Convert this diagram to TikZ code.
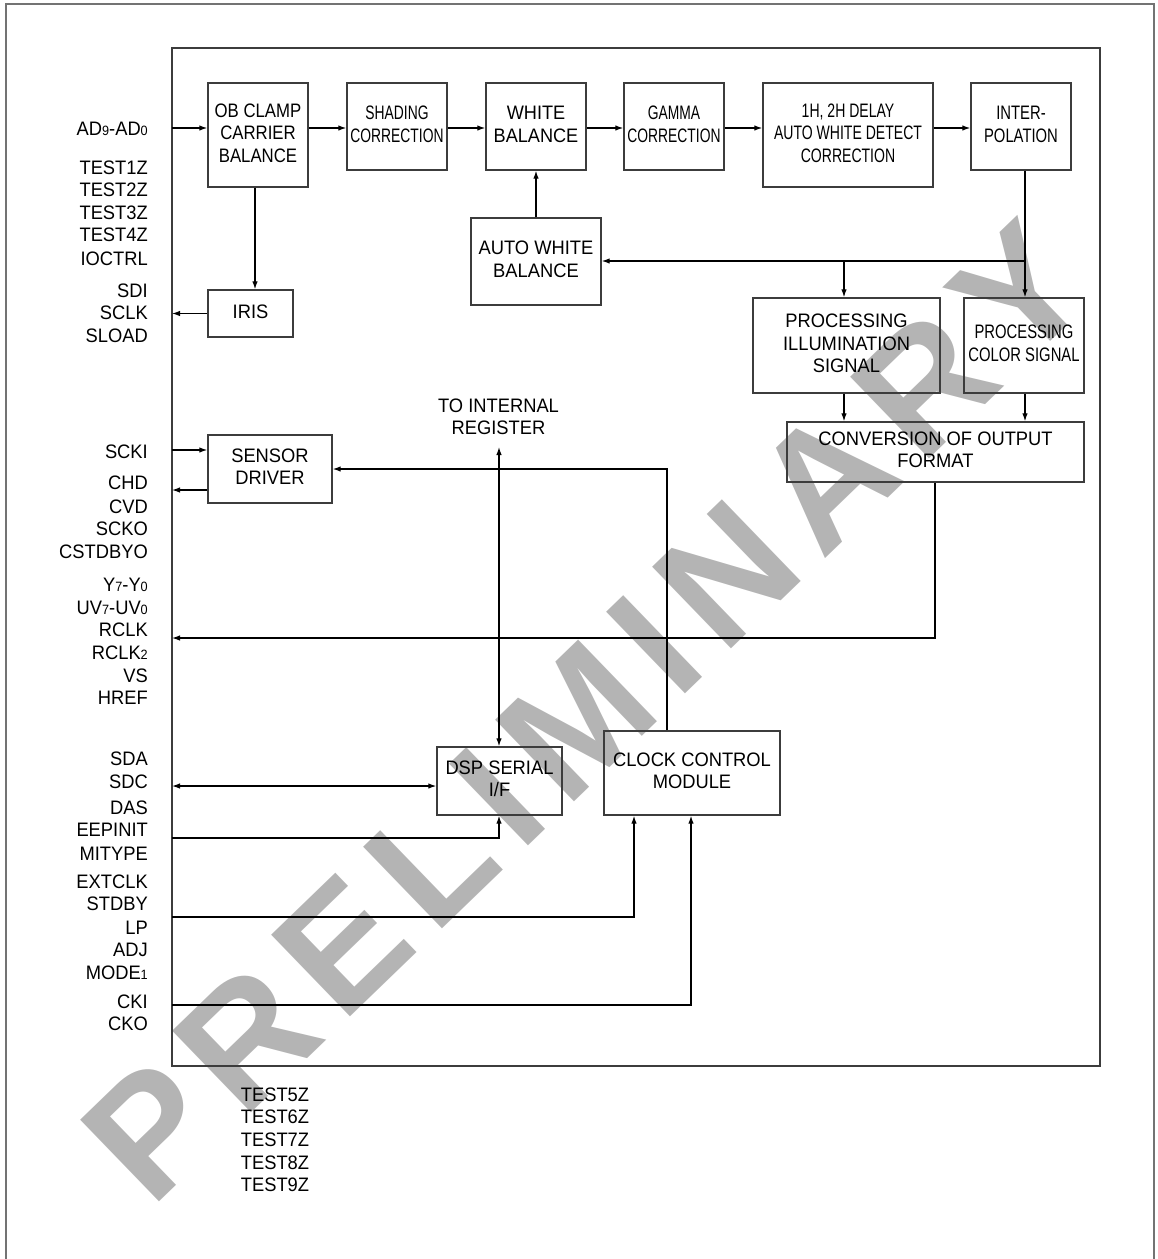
\documentclass[tikz,border=0pt]{standalone}
\usepackage{fontspec}
\setmainfont{Liberation Sans}
\usetikzlibrary{arrows.meta}
\definecolor{wmgray}{RGB}{180,180,180}
\definecolor{frm}{RGB}{60,60,60}
\newcommand{\hs}[2]{\scalebox{#1}[1]{\begin{tabular}{@{}c@{}}#2\end{tabular}}}
\newcommand{\lb}[1]{\scalebox{0.94}[1]{#1}}
\newcommand{\sm}[1]{{\fontsize{13.5}{13.5}\selectfont #1}}
\newcommand{\wg}{\hspace{18pt}}
\begin{document}
\begin{tikzpicture}[x=1pt,y=-1pt,
  font=\fontsize{19.5}{22.5}\selectfont,
  >={Latex[length=8pt,width=5.5pt]},
  blk/.style={draw=frm, line width=1.4pt, inner sep=0pt, fill=none},
  lab/.style={anchor=base east, inner sep=0pt},
  labc/.style={anchor=base, inner sep=0pt},
  wire/.style={line width=1.2pt, black}]
\useasboundingbox (0,0) rectangle (1158,1259);
% watermark
\node[rotate=44, text=wmgray, inner sep=0pt, font=\fontsize{165}{165}\selectfont\bfseries] (wm) at (586,711) {P\wg R\wg E\wg L\wg I\wg M\wg I\wg N\wg A\wg R\wg Y};
% frames
\draw[line width=2pt, black!55] (6,1259) -- (6,4) -- (1154,4) -- (1154,1259);
\draw[line width=2pt, frm] (172,48) rectangle (1100,1066);
% blocks
\node[blk, minimum width=100pt, minimum height=104pt] (ob) at (258,135) {\hs{0.86}{OB CLAMP\\CARRIER\\BALANCE}};
\node[blk, minimum width=100pt, minimum height=87pt] (shd) at (397,126.5) {\hs{0.71}{SHADING\\CORRECTION}};
\node[blk, minimum width=100pt, minimum height=87pt] (wb) at (536,126.5) {\hs{0.93}{WHITE\\BALANCE}};
\node[blk, minimum width=100pt, minimum height=87pt] (gam) at (674,126.5) {\hs{0.71}{GAMMA\\CORRECTION}};
\node[blk, minimum width=170pt, minimum height=104pt] (dly) at (848,135) {\hs{0.72}{1H, 2H DELAY\\AUTO WHITE DETECT\\CORRECTION}};
\node[blk, minimum width=100pt, minimum height=87pt] (itp) at (1021,126.5) {\hs{0.76}{INTER-\\POLATION}};
\node[blk, minimum width=130pt, minimum height=87pt] (awb) at (536,261.5) {\hs{0.94}{AUTO WHITE\\BALANCE}};
\node[blk, minimum width=85pt, minimum height=47pt] (iris) at (250.5,313.5) {\hs{0.94}{IRIS}};
\node[blk, minimum width=187pt, minimum height=95pt] (pil) at (846.5,345.5) {\hs{0.94}{PROCESSING\\ILLUMINATION\\SIGNAL}};
\node[blk, minimum width=120pt, minimum height=95pt] (pcs) at (1024,345.5) {\hs{0.76}{PROCESSING\\COLOR SIGNAL}};
\node[blk, minimum width=297pt, minimum height=60pt] (cof) at (935.5,452) {\hs{0.94}{CONVERSION OF OUTPUT\\FORMAT}};
\node[blk, minimum width=124pt, minimum height=68pt] (sen) at (270,469) {\hs{0.94}{SENSOR\\DRIVER}};
\node[blk, minimum width=125pt, minimum height=68pt] (dsp) at (499.5,781) {\hs{0.94}{DSP SERIAL\\I/F}};
\node[blk, minimum width=176pt, minimum height=84pt] (clk) at (692,773) {\hs{0.94}{CLOCK CONTROL\\MODULE}};
\node[inner sep=0pt] (reg) at (498.5,419) {\hs{0.94}{TO INTERNAL\\REGISTER}};
% left labels
\node[lab] (lAD) at (148,135) {\lb{AD\sm{9}-AD\sm{0}}};
\node[lab] (lT1) at (148,174) {\lb{TEST1Z}};
\node[lab] (lT2) at (148,196.5) {\lb{TEST2Z}};
\node[lab] (lT3) at (148,219) {\lb{TEST3Z}};
\node[lab] (lT4) at (148,241.5) {\lb{TEST4Z}};
\node[lab] (lIO) at (148,265) {\lb{IOCTRL}};
\node[lab] (lSDI) at (148,297) {\lb{SDI}};
\node[lab] (lSCL) at (148,319.5) {\lb{SCLK}};
\node[lab] (lSLO) at (148,342) {\lb{SLOAD}};
\node[lab] (lSCKI) at (148,458) {\lb{SCKI}};
\node[lab] (lCHD) at (148,489) {\lb{CHD}};
\node[lab] (lCVD) at (148,513) {\lb{CVD}};
\node[lab] (lSCKO) at (148,535) {\lb{SCKO}};
\node[lab] (lCST) at (148,558) {\lb{CSTDBYO}};
\node[lab] (lY) at (148,591) {\lb{Y\sm{7}-Y\sm{0}}};
\node[lab] (lUV) at (148,614) {\lb{UV\sm{7}-UV\sm{0}}};
\node[lab] (lRC) at (148,636.5) {\lb{RCLK}};
\node[lab] (lRC2) at (148,659) {\lb{RCLK\sm{2}}};
\node[lab] (lVS) at (148,682) {\lb{VS}};
\node[lab] (lHR) at (148,704.5) {\lb{HREF}};
\node[lab] (lSDA) at (148,765) {\lb{SDA}};
\node[lab] (lSDC) at (148,788) {\lb{SDC}};
\node[lab] (lDAS) at (148,814) {\lb{DAS}};
\node[lab] (lEEP) at (148,836.5) {\lb{EEPINIT}};
\node[lab] (lMIT) at (148,860) {\lb{MITYPE}};
\node[lab] (lEXT) at (148,888) {\lb{EXTCLK}};
\node[lab] (lSTD) at (148,910.5) {\lb{STDBY}};
\node[lab] (lLP) at (148,934) {\lb{LP}};
\node[lab] (lADJ) at (148,956.5) {\lb{ADJ}};
\node[lab] (lMOD) at (148,979) {\lb{MODE\sm{1}}};
\node[lab] (lCKI) at (148,1008) {\lb{CKI}};
\node[lab] (lCKO) at (148,1030.5) {\lb{CKO}};
% bottom labels
\node[labc] (lT5) at (275,1101) {\lb{TEST5Z}};
\node[labc] (lT6) at (275,1123.5) {\lb{TEST6Z}};
\node[labc] (lT7) at (275,1146) {\lb{TEST7Z}};
\node[labc] (lT8) at (275,1169) {\lb{TEST8Z}};
\node[labc] (lT9) at (275,1191.5) {\lb{TEST9Z}};
% coordinates
\coordinate (fL) at (172,0);
\coordinate (rA) at (0,128);
\coordinate (xIR) at (255,0);
\coordinate (xIT) at (1025,0);
\coordinate (jAW) at (1025,261);
\coordinate (jPI) at (844,261);
\coordinate (xCO) at (935,0);
\coordinate (kCO) at (935,638);
\coordinate (ySC) at (0,450);
\coordinate (yCH) at (0,490);
\coordinate (xCK) at (667,0);
\coordinate (kCK) at (667,469);
\coordinate (xDS) at (499,0);
\coordinate (tReg) at (499,447);
\coordinate (ySD) at (0,786);
\coordinate (kEE) at (499,838);
\coordinate (kST) at (634,917);
\coordinate (kCI) at (691,1005);
% connectors
\draw[wire,->] (rA -| fL) -- (rA -| ob.west);
\draw[wire,->] (rA -| ob.east) -- (rA -| shd.west);
\draw[wire,->] (rA -| shd.east) -- (rA -| wb.west);
\draw[wire,->] (rA -| wb.east) -- (rA -| gam.west);
\draw[wire,->] (rA -| gam.east) -- (rA -| dly.west);
\draw[wire,->] (rA -| dly.east) -- (rA -| itp.west);
\draw[wire,->] (ob.south -| xIR) -- (iris.north -| xIR);
\draw[wire,->] (iris.west) -- (iris.west -| fL);
\draw[wire,->] (awb.north) -- (wb.south);
\draw[wire,->] (itp.south -| xIT) -- (pcs.north -| xIT);
\draw[wire,->] (jAW) -- (awb.east |- jAW);
\draw[wire,->] (jPI) -- (pil.north -| jPI);
\draw[wire,->] (pil.south -| jPI) -- (cof.north -| jPI);
\draw[wire,->] (pcs.south -| xIT) -- (cof.north -| xIT);
\draw[wire,->] (cof.south -| xCO) -- (kCO) -- (kCO -| fL);
\draw[wire,->] (ySC -| fL) -- (ySC -| sen.west);
\draw[wire,->] (yCH -| sen.west) -- (yCH -| fL);
\draw[wire,->] (clk.north -| xCK) -- (kCK) -- (sen.east |- kCK);
\draw[wire,<->] (dsp.north -| xDS) -- (tReg);
\draw[wire,<->] (ySD -| fL) -- (ySD -| dsp.west);
\draw[wire,->] (kEE -| fL) -- (kEE) -- (dsp.south -| kEE);
\draw[wire,->] (kST -| fL) -- (kST) -- (clk.south -| kST);
\draw[wire,->] (kCI -| fL) -- (kCI) -- (clk.south -| kCI);
\end{tikzpicture}
\end{document}
